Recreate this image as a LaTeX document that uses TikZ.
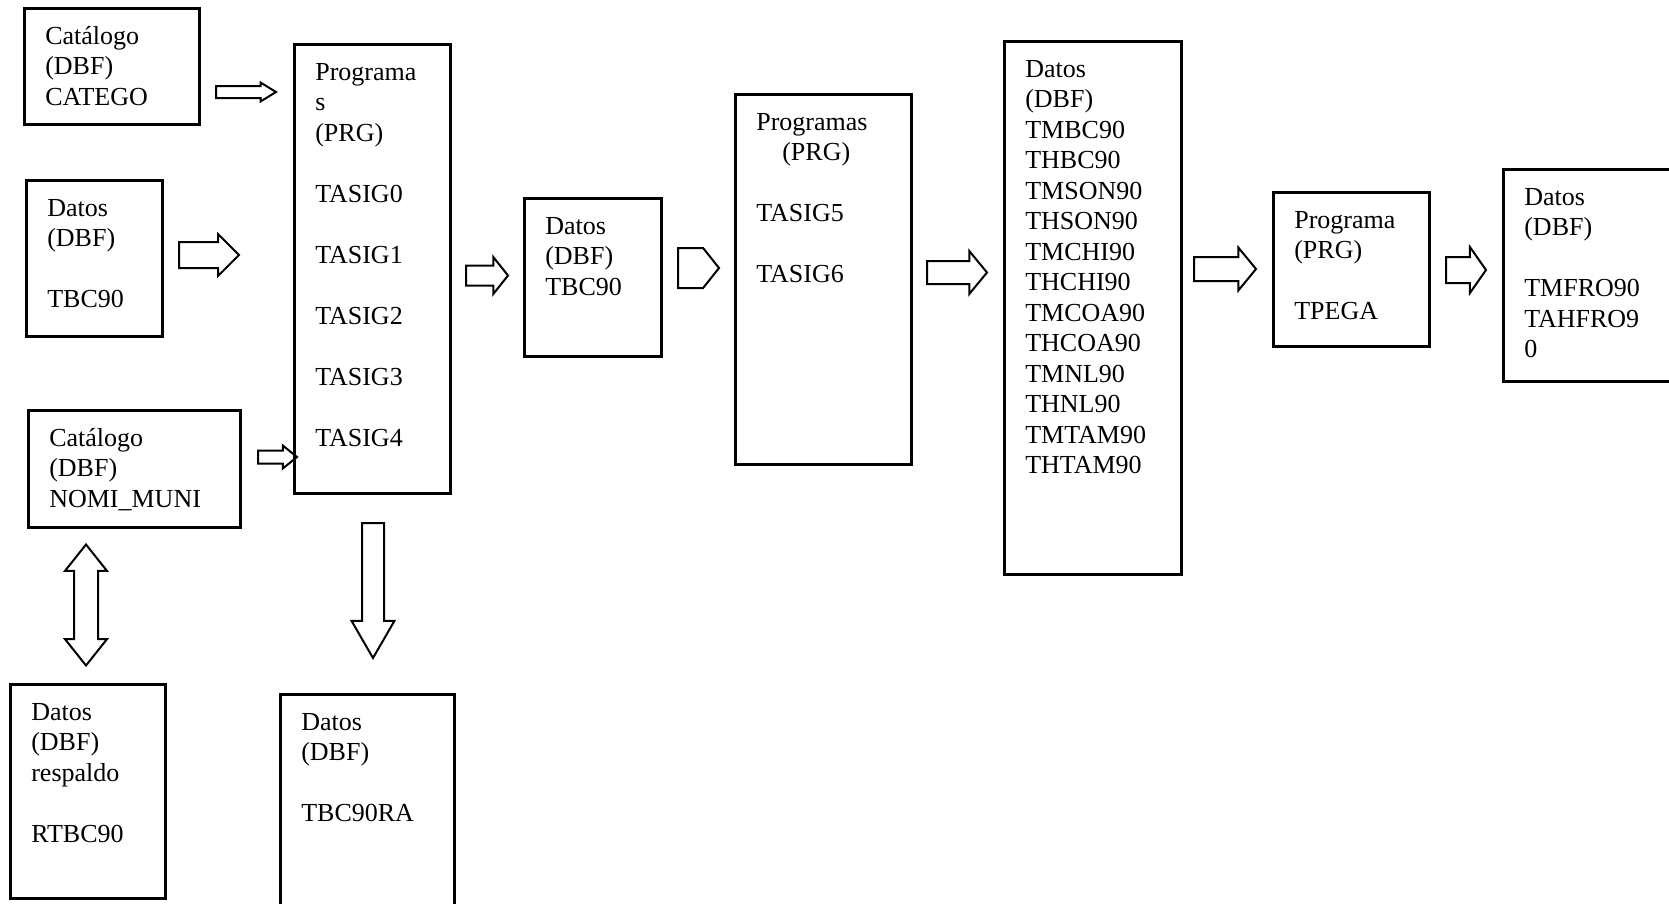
\documentclass[tikz,border=0pt]{standalone}
\usepackage{fontspec}
\setmainfont{Liberation Serif}
\usetikzlibrary{shapes.arrows}

\begin{document}
\begin{tikzpicture}[x=1pt,y=-1pt,
		caja/.style={draw,line width=2.6pt,anchor=north west,align=left,inner xsep=21pt,inner ysep=10pt,text height=26pt,font=\fontsize{26}{30.5}\selectfont},
		flecha/.style={single arrow,draw,line width=2pt,inner xsep=0pt,minimum width=0pt,anchor=tail}]
			\useasboundingbox (0,0) rectangle (1669,903);
			\clip (0,0) rectangle (1669,903);
			
			\node[caja,text width=133pt,text depth=70pt] (catego) at (23,7) {Catálogo\\(DBF)\\CATEGO};
			\node[caja,text width=94pt,text depth=110pt] (tbc) at (25,179) {Datos\\(DBF)\\[30.5pt]TBC90};
			\node[caja,text width=170pt,text depth=71pt] (nomi) at (27,409) {Catálogo\\(DBF)\\NOMI\_MUNI};
			\node[caja,text width=113pt,text depth=168pt] (respaldo) at (9,683) {Datos\\(DBF)\\respaldo\\[30.5pt]RTBC90};
			\node[caja,text width=114pt,text depth=403pt] (prog) at (293,43) {Programa\\s\\(PRG)\\[30.5pt]TASIG0\\[30.5pt]TASIG1\\[30.5pt]TASIG2\\[30.5pt]TASIG3\\[30.5pt]TASIG4};
			\node[caja,text width=132pt,text depth=214pt] (tbcra) at (279,693) {Datos\\(DBF)\\[30.5pt]TBC90RA};
			\node[caja,text width=95pt,text depth=112pt] (tbcb) at (523,197) {Datos\\(DBF)\\TBC90};
			\node[caja,text width=134pt,text depth=324pt] (progb) at (734,93) {Programas\\\hspace*{26pt}(PRG)\\[30.5pt]TASIG5\\[30.5pt]TASIG6};
			\node[caja,text width=135pt,text depth=487pt] (tmdatos) at (1003,40) {Datos\\(DBF)\\TMBC90\\THBC90\\TMSON90\\THSON90\\TMCHI90\\THCHI90\\TMCOA90\\THCOA90\\TMNL90\\THNL90\\TMTAM90\\THTAM90};
			\node[caja,text width=114pt,text depth=108pt] (tpega) at (1272,191) {Programa\\(PRG)\\[30.5pt]TPEGA};
			\node[caja,text width=158pt,text depth=166pt] (tmfro) at (1502,168) {Datos\\(DBF)\\[30.5pt]TMFRO90\\TAHFRO9\\0};
			
			\node[flecha,minimum height=60pt,inner ysep=5pt,single arrow head extend=3.5pt,single arrow tip angle=63] (f1) at (215,92) {};
			\node[flecha,minimum height=60pt,inner ysep=12pt,single arrow head extend=8pt,single arrow tip angle=90] (f2) at (178,255) {};
			\node[flecha,minimum height=39pt,inner ysep=5.5pt,single arrow head extend=5pt,single arrow tip angle=78] (f3) at (257,457) {};
			\node[flecha,minimum height=42pt,inner ysep=9pt,single arrow head extend=8.5pt,single arrow tip angle=103] (f4) at (465,275.5) {};
			\node[flecha,minimum height=41pt,inner ysep=19pt,single arrow head extend=0pt,single arrow tip angle=103] (f5) at (677,268) {};
			\node[flecha,minimum height=60pt,inner ysep=10.5pt,single arrow head extend=10pt,single arrow tip angle=101] (f6) at (926,272.5) {};
			\node[flecha,minimum height=62pt,inner ysep=11pt,single arrow head extend=9.5pt,single arrow tip angle=101] (f7) at (1193,269) {};
			\node[flecha,minimum height=40pt,inner ysep=12pt,single arrow head extend=10pt,single arrow tip angle=110] (f8) at (1445,270) {};
			\node[flecha,rotate=-90,minimum height=135pt,inner ysep=10pt,single arrow head extend=10.5pt,single arrow tip angle=60] (f9) at (373,522) {};
			\node[double arrow,draw,line width=2pt,rotate=90,inner xsep=0pt,inner ysep=11pt,minimum width=0pt,minimum height=121pt,double arrow head extend=9pt,double arrow tip angle=77] (f10) at (86,605) {};
		\end{tikzpicture}
\end{document}
